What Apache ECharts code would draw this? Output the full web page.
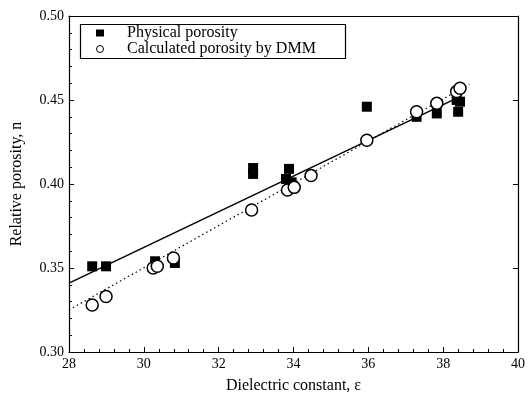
<!DOCTYPE html>
<html>
<head>
<meta charset="utf-8">
<script src="https://cdn.jsdelivr.net/npm/echarts@6/dist/echarts.min.js"></script>
<style>
  html, body { margin: 0; padding: 0; background: #fff; }
  #chart { width: 530px; height: 400px; }
</style>
</head>
<body>
<div id="chart"></div>
<script>
// measured porosity (filled squares)
const physicalX = [28.62, 28.99, 30.30, 30.83, 32.92, 32.92, 33.88, 33.80, 33.95, 35.96, 37.29, 37.83, 38.36, 38.45, 38.40];
const physicalY = [0.351, 0.351, 0.354, 0.353, 0.4095, 0.406, 0.409, 0.403, 0.401, 0.446, 0.440, 0.442, 0.450, 0.449, 0.443];

// DMM porosity (open circles)
const dmmX = [28.62, 28.99, 30.25, 30.36, 30.79, 32.88, 33.84, 34.02, 34.47, 35.96, 37.29, 37.83, 38.36, 38.45];
const dmmY = [0.328, 0.333, 0.350, 0.351, 0.356, 0.3845, 0.3964, 0.398, 0.405, 0.426, 0.443, 0.448, 0.455, 0.457];

// fitted lines (end points)
const physicalFitX = [28, 38.45];
const physicalFitY = [0.341, 0.452];
const dmmFitX = [28, 38.7];
const dmmFitY = [0.325, 0.4595];

const legendNames = ['Physical porosity', 'Calculated porosity by DMM'];

const zip = (xs, ys) => xs.map((x, i) => [x, ys[i]]);

const font = 'Liberation Serif';
const axisLine = { show: true, lineStyle: { color: '#000', width: 1.2 } };

const chart = echarts.init(document.getElementById('chart'));
chart.setOption({
    backgroundColor: '#fff',
    animation: false,
    grid: { left: 69, right: 12, top: 16, bottom: 48 },
    legend: {
        orient: 'vertical',
        left: 96,
        top: 25,
        padding: 0,
        itemGap: 0,
        itemWidth: 8,
        itemHeight: 7,
        textStyle: { fontFamily: font, fontSize: 16, color: '#000', padding: [0, 0, 0, 18] },
        data: [
            { name: legendNames[0], icon: 'rect' },
            { name: legendNames[1], icon: 'circle', itemStyle: { color: '#fff', borderColor: '#000', borderWidth: 1 } }
        ]
    },
    graphic: [{
        type: 'rect',
        left: 78, top: 22,
        shape: { width: 265, height: 34 },
        style: { fill: 'none', stroke: '#000', lineWidth: 1.2 }
    }],
    xAxis: [{
        type: 'value',
        min: 28, max: 40, interval: 2,
        name: 'Dielectric constant, ε',
        nameLocation: 'middle',
        nameGap: 26,
        nameTextStyle: { fontFamily: font, fontSize: 16, color: '#000' },
        axisLine: axisLine,
        axisTick: { inside: true, length: 5, lineStyle: { color: '#000' } },
        minorTick: { show: true, splitNumber: 5, length: 3, lineStyle: { color: '#000' } },
        axisLabel: { fontFamily: font, fontSize: 14, color: '#000', margin: 5 },
        splitLine: { show: false }
    }, {
        type: 'value', position: 'top',
        min: 28, max: 40, interval: 2,
        axisLine: axisLine,
        axisTick: { show: false },
        axisLabel: { show: false },
        splitLine: { show: false }
    }],
    yAxis: [{
        type: 'value',
        min: 0.30, max: 0.50, interval: 0.05,
        name: 'Relative porosity, n',
        nameLocation: 'middle',
        nameGap: 44,
        nameTextStyle: { fontFamily: font, fontSize: 16, color: '#000' },
        axisLine: axisLine,
        axisTick: { inside: true, length: 5, lineStyle: { color: '#000' } },
        minorTick: { show: true, splitNumber: 5, length: 3, lineStyle: { color: '#000' } },
        axisLabel: { fontFamily: font, fontSize: 14, color: '#000', margin: 5, formatter: v => v.toFixed(2) },
        splitLine: { show: false }
    }, {
        type: 'value', position: 'right',
        min: 0.30, max: 0.50, interval: 0.05,
        axisLine: axisLine,
        axisTick: { inside: true, length: 5, lineStyle: { color: '#000' } },
        axisLabel: { show: false },
        splitLine: { show: false }
    }],
    series: [
        {
            name: 'physical fit',
            type: 'line',
            data: zip(physicalFitX, physicalFitY),
            showSymbol: false,
            lineStyle: { color: '#000', width: 1.5 },
            z: 1
        },
        {
            name: 'dmm fit',
            type: 'line',
            data: zip(dmmFitX, dmmFitY),
            showSymbol: false,
            lineStyle: { color: '#000', width: 1.2, type: [1.5, 3] },
            z: 1
        },
        {
            name: legendNames[0],
            type: 'scatter',
            data: zip(physicalX, physicalY),
            symbol: 'rect',
            symbolSize: 10,
            itemStyle: { color: '#000', opacity: 1 },
            z: 2
        },
        {
            name: legendNames[1],
            type: 'scatter',
            data: zip(dmmX, dmmY),
            symbol: 'circle',
            symbolSize: 12,
            itemStyle: { color: '#fff', borderColor: '#000', borderWidth: 1.5, opacity: 1 },
            z: 3
        }
    ]
});
</script>
</body>
</html>
